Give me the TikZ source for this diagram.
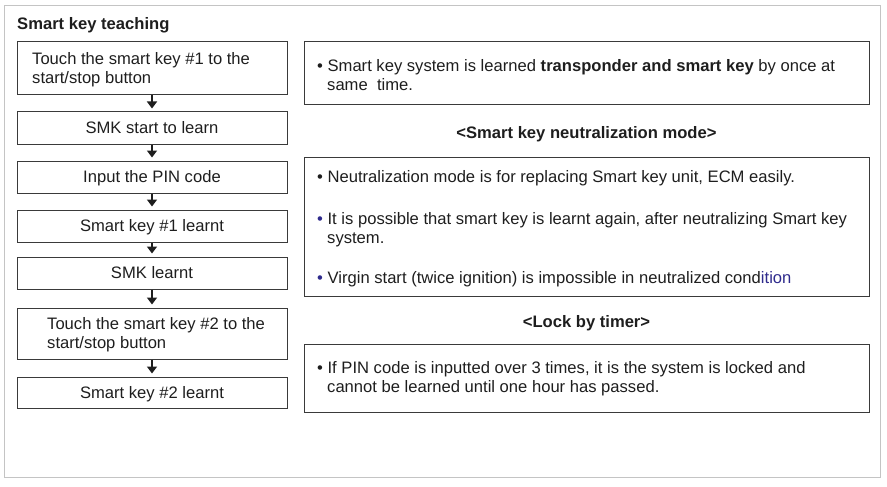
\documentclass[tikz,border=0pt]{standalone}
\usepackage{fontspec}
\setmainfont{Liberation Sans}
\usetikzlibrary{arrows.meta}
\definecolor{txt}{HTML}{1E1E1E}
\definecolor{edge}{HTML}{3A3A3A}
\definecolor{frame}{HTML}{C4C4C4}
\definecolor{navy}{HTML}{2E2A8C}
\begin{document}
\begin{tikzpicture}[x=1pt,y=-1pt,
  every node/.style={font=\fontsize{16.6}{19}\selectfont, text=txt},
  lbox/.style={draw=edge, line width=1pt, minimum width=270pt, inner sep=0pt, text height=12pt, text depth=1pt},
  rbox/.style={draw=edge, line width=1pt, minimum width=565pt, inner sep=0pt},
  ln/.style={anchor=base west, inner sep=0pt},
  hd/.style={anchor=base, inner sep=0pt, font=\fontsize{16.6}{19}\selectfont\bfseries},
  flow/.style={draw=txt, line width=2pt, -{Triangle[width=10pt,length=7pt]}, shorten >=3pt}
]
\useasboundingbox (0,0) rectangle (887,487);
\node[draw=frame, line width=0.8pt, minimum width=876pt, minimum height=472pt, inner sep=0pt] (frm) at (442,241) {};

\node[ln, font=\fontsize{16.6}{19}\selectfont\bfseries] (title) at (17,30) {Smart key teaching};

% left flow
\node[lbox, minimum height=53pt] (b1) at (152,68.5) {};
\node[ln] (b1a) at (32,64.5) {Touch the smart key \#1 to the};
\node[ln] (b1b) at (32,83.5) {start/stop button};
\node[lbox, minimum height=32pt] (b2) at (152,128) {SMK start to learn};
\node[lbox, minimum height=32pt] (b3) at (152,177) {Input the PIN code};
\node[lbox, minimum height=32pt] (b4) at (152,226) {Smart key \#1 learnt};
\node[lbox, minimum height=32pt] (b5) at (152,273) {SMK learnt};
\node[lbox, minimum height=51pt] (b6) at (152,333.5) {};
\node[ln] (b6a) at (47,329) {Touch the smart key \#2 to the};
\node[ln] (b6b) at (47,348) {start/stop button};
\node[lbox, minimum height=31pt] (b7) at (152,392.5) {Smart key \#2 learnt};

\draw[flow] (b1.south) -- (b2.north);
\draw[flow] (b2.south) -- (b3.north);
\draw[flow] (b3.south) -- (b4.north);
\draw[flow] (b4.south) -- (b5.north);
\draw[flow] (b5.south) -- (b6.north);
\draw[flow] (b6.south) -- (b7.north);

% right side
\node[rbox, minimum height=63pt] (ra) at (586.5,73.5) {};
\node[ln] (ra1) at (317,71.5) {• Smart key system is learned \textbf{transponder and smart key} by once at};
\node[ln] (ra2) at (327,91) {same\ \ time.};

\node[hd] (h1) at (586.5,138.5) {<Smart key neutralization mode>};

\node[rbox, minimum height=139pt] (rb) at (586.5,226.5) {};
\node[ln] (rb1) at (317,182) {• Neutralization mode is for replacing Smart key unit, ECM easily.};
\node[ln] (rb2) at (317,224) {\textcolor{navy}{•} It is possible that smart key is learnt again, after neutralizing Smart key};
\node[ln] (rb3) at (327,243) {system.};
\node[ln] (rb4) at (317,283) {\textcolor{navy}{•} Virgin start (twice ignition) is impossible in neutralized cond\textcolor{navy}{ition}};

\node[hd] (h2) at (586.5,327.5) {<Lock by timer>};

\node[rbox, minimum height=68pt] (rc) at (586.5,378) {};
\node[ln] (rc1) at (317,373) {• If PIN code is inputted over 3 times, it is the system is locked and};
\node[ln] (rc2) at (327,392) {cannot be learned until one hour has passed.};
\end{tikzpicture}
\end{document}
